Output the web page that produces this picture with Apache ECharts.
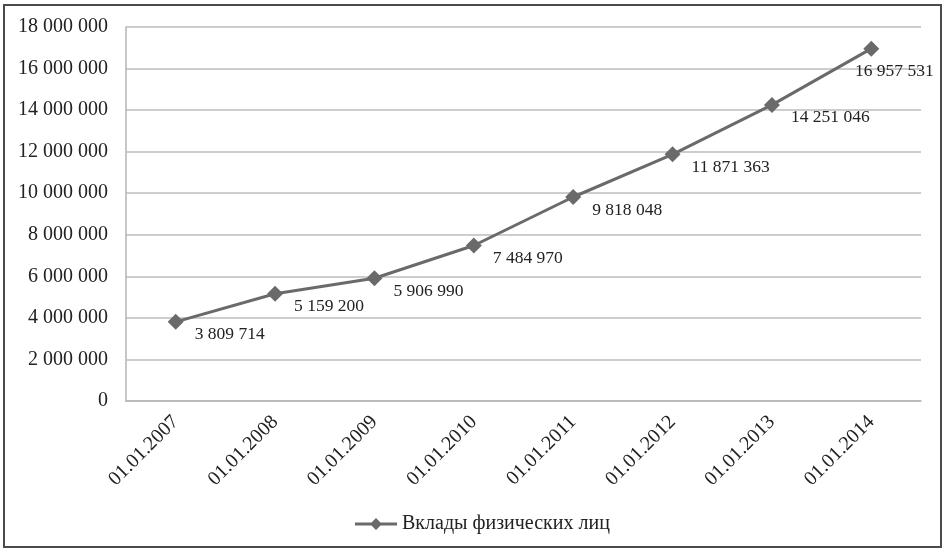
<!DOCTYPE html>
<html>
<head>
<meta charset="utf-8">
<script src="https://cdn.jsdelivr.net/npm/echarts@6/dist/echarts.min.js"></script>
<style>
  html, body { margin: 0; padding: 0; background: #fff; }
  #chart { width: 943px; height: 549px; }
</style>
</head>
<body>
<div id="chart"></div>
<script>
// Deposits of individuals by date
var categories = ['01.01.2007', '01.01.2008', '01.01.2009', '01.01.2010', '01.01.2011', '01.01.2012', '01.01.2013', '01.01.2014'];
var deposits = [3809714, 5159200, 5906990, 7484970, 9818048, 11871363, 14251046, 16957531];
var seriesName = 'Вклады физических лиц';

var FONT = 'Liberation Serif';
var GRAY = '#6a6a6a';

function groupThousands(v) {
  return String(Math.round(v)).replace(/\B(?=(\d{3})+(?!\d))/g, ' ');
}

// Legend icon: a line with a small diamond in the middle
var LINE_DIAMOND = 'path://M0,4.5 L16.5,4.5 L21,0 L25.5,4.5 L42,4.5 L42,7.5 L25.5,7.5 L21,12 L16.5,7.5 L0,7.5 Z';

// Last point label sits below-left so it stays inside the plot
var seriesData = deposits.map(function (v, i) {
  if (i === deposits.length - 1) {
    return { value: v, label: { position: 'bottom', distance: 6, offset: [23, 0] } };
  }
  return v;
});

var chart = echarts.init(document.getElementById('chart'), null, { renderer: 'canvas' });
chart.setOption({
  animation: false,
  backgroundColor: '#ffffff',
  textStyle: { fontFamily: FONT },
  graphic: [{
    type: 'rect',
    shape: { x: 4, y: 5, width: 937, height: 542 },
    style: { fill: 'none', stroke: '#4a4a4a', lineWidth: 2 },
    silent: true
  }],
  grid: { left: 126, right: 22, top: 27, bottom: 148, containLabel: false },
  legend: {
    bottom: 10,
    left: 350,
    itemWidth: 42,
    itemHeight: 12,
    itemGap: 5,
    textStyle: { fontFamily: FONT, fontSize: 20, color: '#222' },
    data: [{ name: seriesName, icon: LINE_DIAMOND }]
  },
  xAxis: {
    type: 'category',
    data: categories,
    boundaryGap: true,
    axisLine: { show: true, lineStyle: { color: '#b5b5b5', width: 1.5 } },
    axisTick: { show: false },
    axisLabel: {
      rotate: 45,
      margin: 18,
      fontFamily: FONT,
      fontSize: 20,
      color: '#222',
      interval: 0
    }
  },
  yAxis: {
    type: 'value',
    min: 0,
    max: 18000000,
    interval: 2000000,
    axisLine: { show: true, lineStyle: { color: '#b5b5b5', width: 1.5 } },
    axisTick: { show: false },
    splitLine: { show: true, lineStyle: { color: '#bdbdbd', width: 1.5 } },
    axisLabel: {
      margin: 18,
      fontFamily: FONT,
      fontSize: 20,
      color: '#222',
      formatter: function (v) { return groupThousands(v); }
    }
  },
  series: [{
    name: seriesName,
    type: 'line',
    data: seriesData,
    symbol: 'diamond',
    symbolSize: 16,
    lineStyle: { color: GRAY, width: 3 },
    itemStyle: { color: GRAY },
    label: {
      show: true,
      position: 'right',
      distance: 11,
      offset: [0, 13],
      fontFamily: FONT,
      fontSize: 17.5,
      color: '#222',
      formatter: function (p) { return groupThousands(p.value); }
    }
  }]
});
</script>
</body>
</html>
